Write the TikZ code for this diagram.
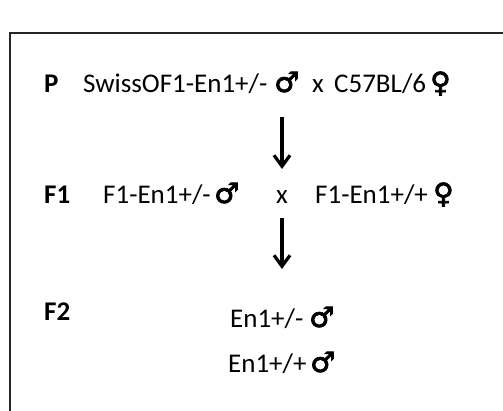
\documentclass[tikz,border=0pt]{standalone}
\usepackage{fontspec}
\setmainfont{Carlito}
\newfontfamily\symfont[FakeBold=2.5]{DejaVu Sans}
\usetikzlibrary{arrows.meta}
\tikzset{
  txt/.style={anchor=base west, inner sep=0pt, font=\fontsize{27}{31}\selectfont},
  lbl/.style={txt, font=\fontsize{27}{31}\selectfont\bfseries},
  sym/.style={anchor=base west, inner sep=0pt, font=\fontsize{28}{32}\symfont},
  gen/.style={line width=3.2pt, -{Straight Barb[length=11pt,width=16pt,line width=3.2pt]}},
  frame/.style={draw=black!85, line width=1.5pt}
}
\begin{document}
\begin{tikzpicture}[x=1pt,y=-1pt]
\useasboundingbox (0,0) rectangle (503,410);
\clip (0,0) rectangle (503,410);
\draw[frame] (10,33) rectangle (530,440);
% P row
\node[lbl] (P) at (44,92) {P};
\node[txt] (p1) at (83,92) {SwissOF1-En1+/-};
\node[sym] (p1s) at (274,92) {♂};
\node[txt] (px) at (312,92) {x};
\node[txt] (p2) at (334,92) {C57BL/6};
\node[sym] (p2s) at (430,92) {♀};
% F1 row
\node[lbl] (F1) at (44,203) {F1};
\node[txt] (f1) at (103,203) {F1-En1+/-};
\node[sym] (f1s) at (214,203) {♂};
\node[txt] (fx) at (276,203) {x};
\node[txt] (f2) at (315,203) {F1-En1+/+};
\node[sym] (f2s) at (433,203) {♀};
% F2 row
\node[lbl] (F2) at (44,320) {F2};
\node[txt] (g1) at (230,327) {En1+/-};
\node[sym] (g1s) at (309,327) {♂};
\node[txt] (g2) at (228,372) {En1+/+};
\node[sym] (g2s) at (310,372) {♂};
% arrows
\coordinate (a1s) at (282,117);
\coordinate (a1e) at (282,169);
\coordinate (a2s) at (282,218);
\coordinate (a2e) at (282,269);
\draw[gen] (a1s) -- (a1e);
\draw[gen] (a2s) -- (a2e);
\end{tikzpicture}
\end{document}
